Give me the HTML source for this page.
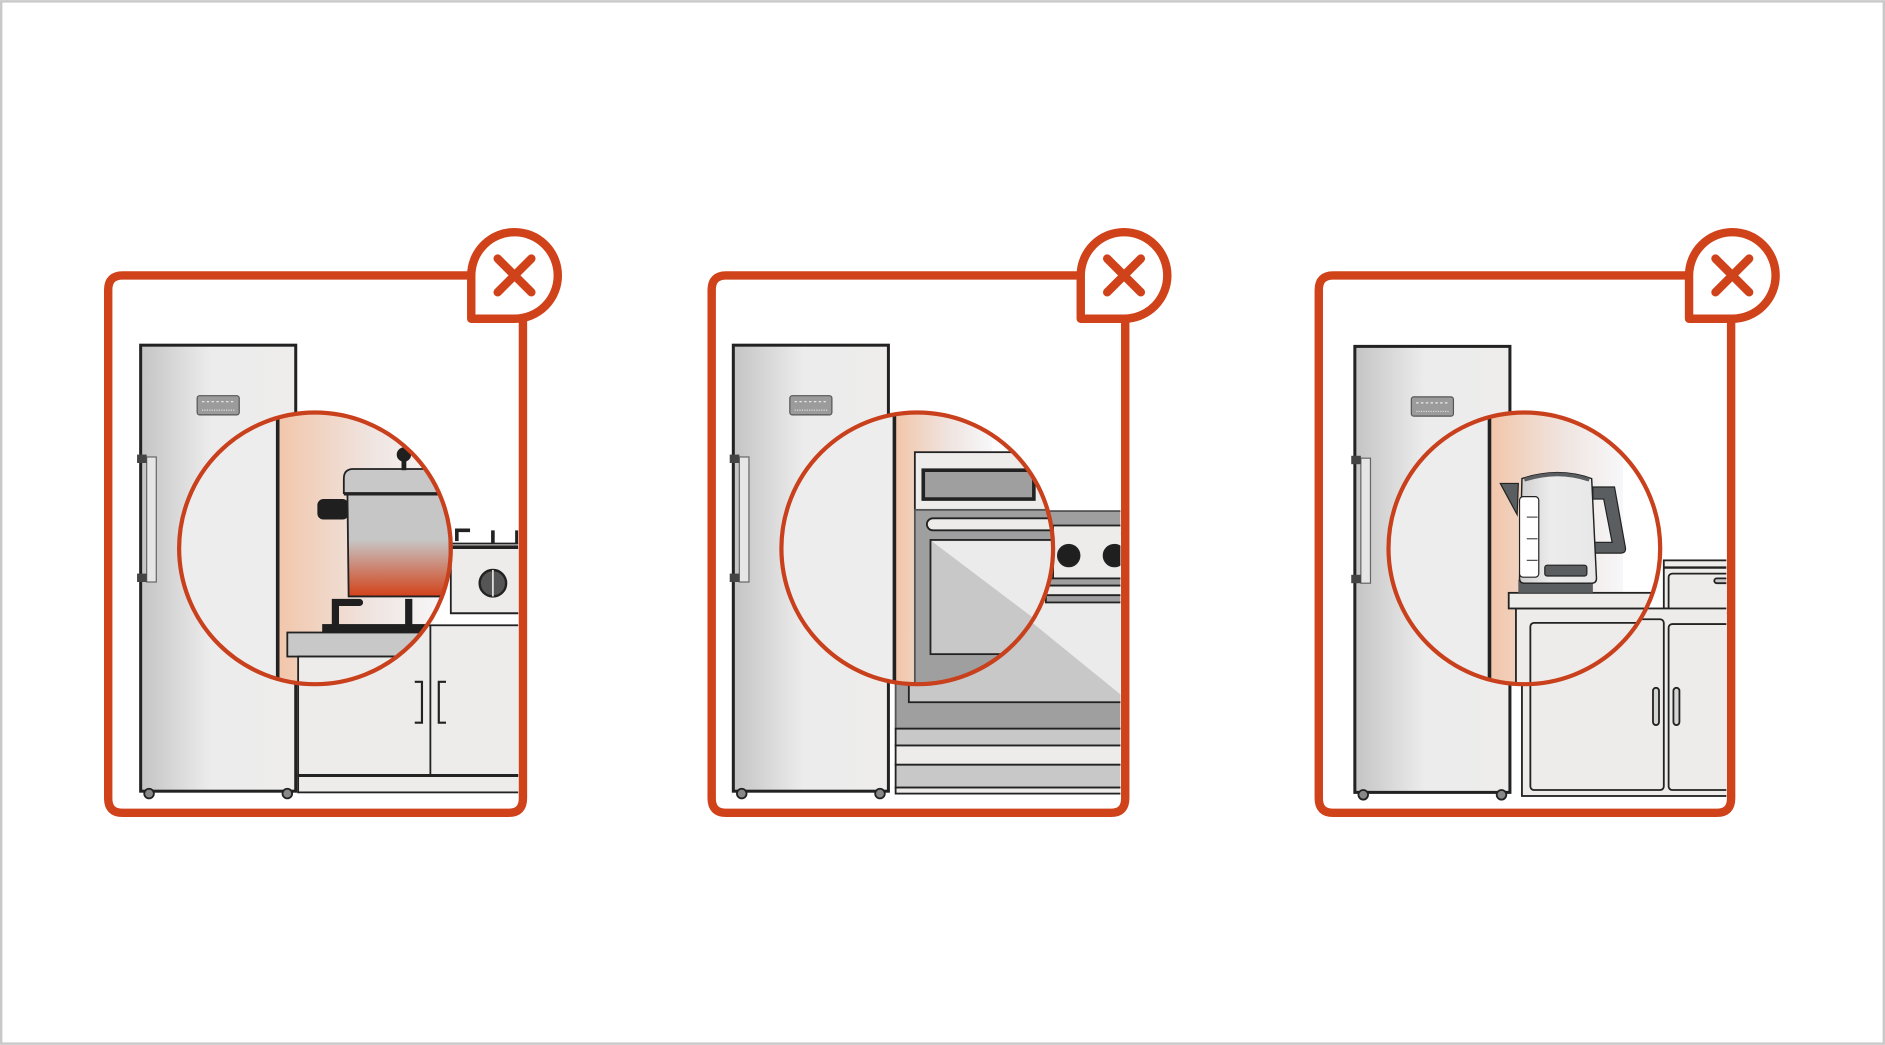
<!DOCTYPE html>
<html><head><meta charset="utf-8"><style>html,body{margin:0;padding:0;background:#fff}svg{display:block}</style></head>
<body>
<svg width="1885" height="1045" viewBox="0 0 1568 869" xmlns="http://www.w3.org/2000/svg">
<defs>
<linearGradient id="fg" x1="0" x2="1" y1="0" y2="0"><stop offset="0" stop-color="#c4c4c4"/><stop offset="0.45" stop-color="#ececec"/><stop offset="1" stop-color="#eeedec"/></linearGradient>
<linearGradient id="pk" x1="0" x2="1" y1="0" y2="0"><stop offset="0" stop-color="#f2c6aa"/><stop offset="0.55" stop-color="#efe4e0"/><stop offset="1" stop-color="#f7f7f9"/></linearGradient>
<linearGradient id="pot" x1="0" x2="0" y1="0" y2="1"><stop offset="0" stop-color="#c6c6c6"/><stop offset="0.45" stop-color="#c6c6c6"/><stop offset="1" stop-color="#d2421a"/></linearGradient>
<linearGradient id="kt" x1="0" x2="1" y1="0" y2="0"><stop offset="0" stop-color="#cfcfcf"/><stop offset="0.4" stop-color="#ececec"/><stop offset="1" stop-color="#e8e8e8"/></linearGradient>
<clipPath id="f1"><rect x="94" y="233" width="337" height="439"/></clipPath>
<clipPath id="f2"><rect x="596" y="233" width="336" height="439"/></clipPath>
<clipPath id="f3"><rect x="1101" y="233" width="335" height="439"/></clipPath>
<clipPath id="c1"><circle cx="262" cy="456" r="113"/></clipPath>
<clipPath id="c2"><circle cx="763" cy="456" r="113"/></clipPath>
<clipPath id="c3"><circle cx="1268" cy="456" r="113"/></clipPath>
<g id="fridge">
<rect x="0" y="0" width="129" height="371" fill="url(#fg)" stroke="#222" stroke-width="2.5"/>
<circle cx="7" cy="373" r="4" fill="#888" stroke="#222" stroke-width="1.5"/>
<circle cx="122" cy="373" r="4" fill="#888" stroke="#222" stroke-width="1.5"/>
<rect x="5" y="93" width="8" height="104" fill="#e6e6e6" stroke="#666" stroke-width="1"/>
<rect x="-3" y="91" width="8" height="7" fill="#444"/>
<rect x="-3" y="190" width="8" height="7" fill="#444"/>
<rect x="47" y="42" width="35" height="16" rx="2" fill="#9b9b9b" stroke="#555" stroke-width="1"/>
<line x1="51" y1="47" x2="78" y2="47" stroke="#eee" stroke-width="1" stroke-dasharray="2 2"/>
<line x1="51" y1="54" x2="78" y2="54" stroke="#eee" stroke-width="0.8" stroke-dasharray="1 1"/>
</g>
</defs>
<rect x="1" y="1" width="1566" height="867" fill="#fff" stroke="#c9c9c9" stroke-width="2"/>

<!-- PANEL 1 -->
<use href="#fridge" x="117" y="287"/>
<g clip-path="url(#f1)" stroke="#222" stroke-width="1.5">
<rect x="248" y="520" width="190" height="125" fill="#edeceb"/>
<rect x="248" y="645" width="190" height="14" fill="#edeceb"/>
<line x1="248" y1="645" x2="438" y2="645" stroke-width="2.5"/>
<line x1="358" y1="520" x2="358" y2="645"/>
<path d="M345 567h6v34h-6M371 567h-6v34h6" fill="none" stroke-width="1.8"/>
<rect x="375" y="452" width="63" height="58" fill="#edeceb"/>
<line x1="375" y1="455" x2="438" y2="455" stroke-width="3"/>
<line x1="375" y1="510" x2="438" y2="510"/>
<circle cx="410" cy="485" r="11" fill="#555" stroke-width="2"/>
<line x1="410" y1="474" x2="410" y2="496" stroke="#ddd" stroke-width="1.5"/>
<path d="M380 450v-9h11M410 452v-11M430 452v-11" fill="none" stroke-width="3"/>
</g>
<g clip-path="url(#c1)">
<rect x="140" y="330" width="250" height="260" fill="#fff"/>
<rect x="140" y="330" width="91" height="260" fill="#eeeded"/>
<rect x="231" y="330" width="140" height="260" fill="url(#pk)"/>
<line x1="231" y1="330" x2="231" y2="590" stroke="#222" stroke-width="3"/>
<rect x="239" y="526" width="150" height="20" fill="#c8c8c8" stroke="#222" stroke-width="1.5"/>
<rect x="248" y="546" width="140" height="40" fill="#edeceb" stroke="#222" stroke-width="1.5"/>
<rect x="375" y="452" width="20" height="58" fill="#edeceb" stroke="#222" stroke-width="1.5"/>
<rect x="268" y="519" width="87" height="7" fill="#1f1f1f"/>
<path d="M279 520v-19h20" fill="none" stroke="#1f1f1f" stroke-width="6" stroke-linecap="round"/>
<path d="M340 520v-22" stroke="#1f1f1f" stroke-width="6"/>
<rect x="264" y="415" width="26" height="17" rx="5" fill="#1f1f1f"/>
<path d="M289 410h84l2 86h-85z" fill="url(#pot)" stroke="#222" stroke-width="1.5"/>
<path d="M286 410v-12q0-8 8-8h70l8 20z" fill="#c8c8c8" stroke="#222" stroke-width="1.5"/>
<line x1="286" y1="411" x2="372" y2="411" stroke="#222" stroke-width="2"/>
<rect x="334" y="381" width="4" height="10" fill="#1f1f1f"/>
<circle cx="336" cy="378" r="6" fill="#1f1f1f"/>
</g>
<circle cx="262" cy="456" r="113" fill="none" stroke="#c9401c" stroke-width="3.5"/>
<path d="M392 229H102Q90 229 90 241V664Q90 676 102 676H423Q435 676 435 664V266" fill="none" stroke="#d0421a" stroke-width="7"/>
<path d="M392 229A36 36 0 1 1 428 265H392Z" fill="#fff" stroke="#d0421a" stroke-width="7" stroke-linejoin="round"/>
<path d="M414 215l28 28M442 215l-28 28" stroke="#d0421a" stroke-width="7" stroke-linecap="round"/>

<!-- PANEL 2 -->
<use href="#fridge" x="610" y="287"/>
<g clip-path="url(#f2)" stroke="#222" stroke-width="1.5">
<rect x="745" y="425" width="195" height="181" fill="#a09f9f" stroke="#555"/>
<rect x="756" y="444" width="184" height="140" fill="#c8c8c8"/>
<path d="M774 449H940V584Z" fill="#ebebeb" stroke="none"/>
<rect x="876" y="437" width="64" height="44" fill="#edeceb"/>
<circle cx="889" cy="462" r="9" fill="#1f1f1f"/>
<circle cx="927" cy="462" r="9" fill="#1f1f1f"/>
<rect x="870" y="481" width="70" height="6" fill="#a09f9f"/>
<rect x="870" y="487" width="70" height="8" fill="#edeceb"/>
<rect x="870" y="495" width="70" height="6" fill="#a09f9f"/>
<rect x="745" y="606" width="195" height="14" fill="#c8c8c8"/>
<rect x="745" y="620" width="195" height="16" fill="#edeceb"/>
<rect x="745" y="636" width="195" height="19" fill="#c8c8c8"/>
<rect x="745" y="655" width="195" height="5" fill="#edeceb"/>
</g>
<g clip-path="url(#c2)">
<rect x="640" y="330" width="250" height="260" fill="#fff"/>
<rect x="640" y="330" width="104" height="260" fill="#eeeded"/>
<rect x="745" y="330" width="80" height="260" fill="url(#pk)"/>
<line x1="744" y1="330" x2="744" y2="590" stroke="#222" stroke-width="3"/>
<rect x="761" y="376" width="130" height="48" fill="#edeceb" stroke="#222" stroke-width="1.5"/>
<rect x="768" y="391" width="92" height="24" fill="#a09f9f" stroke="#222" stroke-width="3"/>
<rect x="761" y="424" width="130" height="166" fill="#a09f9f" stroke="#555" stroke-width="1.5"/>
<rect x="771" y="431" width="120" height="10" rx="5" fill="#edeceb" stroke="#222" stroke-width="1.5"/>
<rect x="774" y="449" width="120" height="95" fill="#c8c8c8" stroke="#222" stroke-width="1.5"/>
<path d="M775 450H894V540Z" fill="#ebebeb"/>
<rect x="876" y="437" width="20" height="44" fill="#edeceb"/>
</g>
<circle cx="763" cy="456" r="113" fill="none" stroke="#c9401c" stroke-width="3.5"/>
<path d="M899 229H604Q592 229 592 241V664Q592 676 604 676H924Q936 676 936 664V266" fill="none" stroke="#d0421a" stroke-width="7"/>
<path d="M899 229A36 36 0 1 1 935 265H899Z" fill="#fff" stroke="#d0421a" stroke-width="7" stroke-linejoin="round"/>
<path d="M921 215l28 28M949 215l-28 28" stroke="#d0421a" stroke-width="7" stroke-linecap="round"/>

<!-- PANEL 3 -->
<use href="#fridge" x="1127" y="288"/>
<g clip-path="url(#f3)" stroke="#222" stroke-width="1.5">
<rect x="1384" y="466" width="60" height="40" fill="#edeceb"/>
<line x1="1384" y1="472" x2="1444" y2="472" stroke-width="2"/>
<rect x="1388" y="477" width="60" height="33" rx="3" fill="#edeceb"/>
<rect x="1426" y="481" width="12" height="4" rx="2" fill="#c8c8c8"/>
<rect x="1266" y="506" width="178" height="156" fill="#edeceb"/>
<rect x="1273" y="515" width="111" height="142" rx="3" fill="#edeceb"/>
<rect x="1388" y="519" width="60" height="138" rx="3" fill="#edeceb"/>
<rect x="1375" y="572" width="5" height="31" rx="2.5" fill="#d4d4d4"/>
<rect x="1392" y="572" width="5" height="31" rx="2.5" fill="#d4d4d4"/>
</g>
<g clip-path="url(#c3)">
<rect x="1145" y="330" width="250" height="260" fill="#fff"/>
<rect x="1145" y="330" width="94" height="260" fill="#eeeded"/>
<rect x="1240" y="330" width="110" height="260" fill="url(#pk)"/>
<line x1="1239" y1="330" x2="1239" y2="590" stroke="#222" stroke-width="3"/>
<g stroke="#222" stroke-width="1.5">
<rect x="1261" y="506" width="140" height="90" fill="#edeceb"/>
<rect x="1273" y="518" width="110" height="90" rx="3" fill="#edeceb"/>
<rect x="1255" y="493" width="140" height="13" fill="#edeceb"/>
</g>
<path d="M1248 402H1263L1262 428Z" fill="#5b5e60" stroke="#222" stroke-width="1"/>
<path d="M1325 405h18l9 50q1 5-4 5h-22v-9h15l-7-36h-9z" fill="#5b5e60" stroke="#222" stroke-width="1"/>
<rect x="1263" y="482" width="62" height="11" fill="#5b5e60"/>
<path d="M1266 398q30-10 58 0l4 83q0 4-4 4h-56q-4 0-4-4z" fill="url(#kt)" stroke="#222" stroke-width="1.2"/>
<path d="M1268 399q28-9 54 0" fill="none" stroke="#5b5e60" stroke-width="3"/>
<rect x="1264" y="413" width="16" height="67" rx="3" fill="#fff" stroke="#222" stroke-width="1"/>
<path d="M1270 430h9M1270 448h9M1270 466h9" stroke="#555" stroke-width="1"/>
<rect x="1285" y="470" width="35" height="9" rx="2" fill="#5b5e60" stroke="#222" stroke-width="1"/>
</g>
<circle cx="1268" cy="456" r="113" fill="none" stroke="#c9401c" stroke-width="3.5"/>
<path d="M1405 229H1109Q1097 229 1097 241V664Q1097 676 1109 676H1428Q1440 676 1440 664V266" fill="none" stroke="#d0421a" stroke-width="7"/>
<path d="M1405 229A36 36 0 1 1 1441 265H1405Z" fill="#fff" stroke="#d0421a" stroke-width="7" stroke-linejoin="round"/>
<path d="M1427 215l28 28M1455 215l-28 28" stroke="#d0421a" stroke-width="7" stroke-linecap="round"/>
</svg>
</body></html>
